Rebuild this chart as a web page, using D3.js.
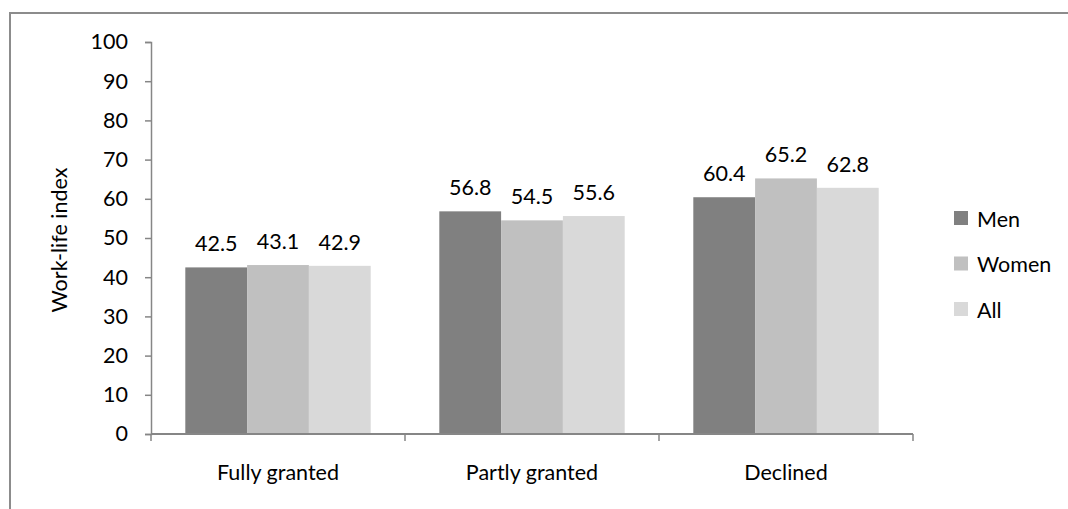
<!DOCTYPE html>
<html>
<head>
<meta charset="utf-8">
<script src="https://cdn.jsdelivr.net/npm/d3@7/dist/d3.min.js"></script>
<style>
  html, body { margin: 0; padding: 0; background: #fff; }
  svg { display: block; font-family: Lato, "Open Sans", sans-serif; }
</style>
</head>
<body>
<svg id="chart" width="1068" height="509"></svg>
<script>
// Work-life index by outcome of the flexible-work request
const categories = ["Fully granted", "Partly granted", "Declined"];
const seriesNames = ["Men", "Women", "All"];
const menValues = [42.5, 56.8, 60.4];
const womenValues = [43.1, 54.5, 65.2];
const allValues = [42.9, 55.6, 62.8];
const yTicks = [0, 10, 20, 30, 40, 50, 60, 70, 80, 90, 100];
const seriesColors = ["#808080", "#c0c0c0", "#d9d9d9"];

const seriesValues = [menValues, womenValues, allValues];
const fontSize = 21.5;

const svg = d3.select("#chart");

// outer chart frame
svg.append("rect")
  .attr("x", 10).attr("y", 13)
  .attr("width", 1080).attr("height", 520)
  .attr("fill", "none").attr("stroke", "#8c8c8c").attr("stroke-width", 2);

const plot = { left: 151, right: 913, top: 42, bottom: 434 };

const x0 = d3.scaleBand().domain(categories).range([plot.left, plot.right]).paddingInner(0).paddingOuter(0);
const x1 = d3.scaleBand().domain(seriesNames).range([0, x0.bandwidth()]).paddingOuter(0.555).paddingInner(0);
const y = d3.scaleLinear().domain([0, 100]).range([plot.bottom, plot.top]);

const rows = (c, i) => seriesNames.map((s, j) => ({ s, j, v: seriesValues[j][i] }));

// bars
const groups = svg.append("g").selectAll("g")
  .data(categories)
  .join("g")
  .attr("transform", d => `translate(${x0(d)},0)`);

groups.selectAll("rect")
  .data(rows)
  .join("rect")
  .attr("x", d => x1(d.s))
  .attr("y", d => y(d.v))
  .attr("width", x1.bandwidth())
  .attr("height", d => y(0) - y(d.v))
  .attr("fill", d => seriesColors[d.j]);

// value labels
groups.selectAll("text")
  .data(rows)
  .join("text")
  .attr("x", d => x1(d.s) + x1.bandwidth() / 2)
  .attr("y", d => y(d.v) - 16)
  .attr("text-anchor", "middle")
  .attr("font-size", fontSize)
  .attr("fill", "#000")
  .text(d => d.v.toFixed(1));

// y axis
const yAxis = d3.axisLeft(y).tickValues(yTicks).tickSize(6).tickPadding(17);
const gy = svg.append("g").attr("transform", `translate(${plot.left},0)`).call(yAxis);
gy.select(".domain").attr("stroke", "#868686").attr("stroke-width", 1.5);
gy.selectAll(".tick line").attr("stroke", "#868686").attr("stroke-width", 1.5);
gy.selectAll(".tick text").attr("font-size", fontSize).attr("fill", "#000")
  .attr("font-family", "Lato, 'Open Sans', sans-serif");

// x axis with boundary ticks between categories
const xEdge = d3.scaleLinear().domain([0, categories.length]).range([plot.left, plot.right]);
const gx = svg.append("g").attr("transform", `translate(0,${plot.bottom})`);
gx.append("line")
  .attr("x1", plot.left).attr("x2", plot.right)
  .attr("stroke", "#868686").attr("stroke-width", 2);
gx.selectAll("line.tk")
  .data(d3.range(categories.length + 1))
  .join("line").attr("class", "tk")
  .attr("x1", d => xEdge(d)).attr("x2", d => xEdge(d))
  .attr("y1", 0).attr("y2", 7)
  .attr("stroke", "#868686").attr("stroke-width", 1.5);
gx.selectAll("text")
  .data(categories)
  .join("text")
  .attr("x", d => x0(d) + x0.bandwidth() / 2)
  .attr("y", 46)
  .attr("text-anchor", "middle")
  .attr("font-size", fontSize)
  .attr("fill", "#000")
  .text(d => d);

// y axis title
svg.append("text")
  .attr("transform", "translate(67,240) rotate(-90)")
  .attr("text-anchor", "middle")
  .attr("font-size", fontSize)
  .attr("fill", "#000")
  .text("Work-life index");

// legend
const legend = svg.append("g").selectAll("g")
  .data(seriesNames)
  .join("g")
  .attr("transform", (d, i) => `translate(954,${218 + i * 45.5})`);
legend.append("rect")
  .attr("x", 0).attr("y", -7)
  .attr("width", 14).attr("height", 14)
  .attr("fill", (d, i) => seriesColors[i]);
legend.append("text")
  .attr("x", 23).attr("y", 8.5)
  .attr("font-size", fontSize)
  .attr("fill", "#000")
  .text(d => d);
</script>
</body>
</html>
